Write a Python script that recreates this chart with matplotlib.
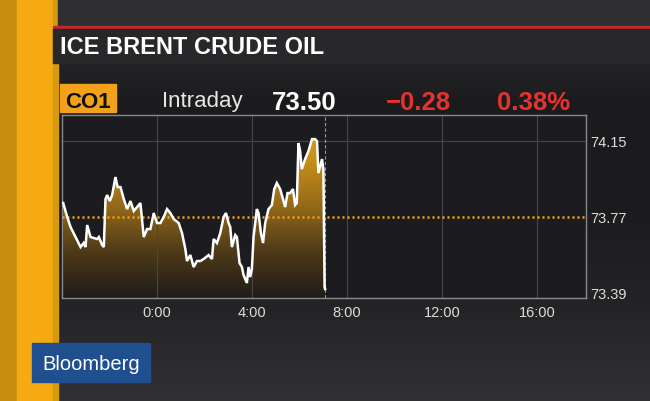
import matplotlib
matplotlib.use('Agg')
import matplotlib.pyplot as plt
import numpy as np
from matplotlib.patches import Rectangle, Polygon
from matplotlib.colors import LinearSegmentedColormap

plt.rcParams['font.family'] = ['Liberation Sans', 'DejaVu Sans']

# intraday ticks: hours from midnight (negative = previous evening), price
hours = [-3.95, -3.78, -3.64, -3.43, -3.22, -3.09, -3.01, -2.94, -2.80, -2.52,
         -2.45, -2.31, -2.24, -2.17, -2.10, -1.99, -1.89, -1.75, -1.66, -1.54,
         -1.40, -1.26, -1.12, -0.98, -0.84, -0.70, -0.56, -0.42, -0.28, -0.14,
         0.00, 0.14, 0.28, 0.42, 0.56, 0.70, 0.91, 1.05, 1.19, 1.26,
         1.40, 1.54, 1.68, 1.82, 1.96, 2.17, 2.31, 2.38, 2.52, 2.66,
         2.80, 2.90, 3.01, 3.08, 3.15, 3.29, 3.36, 3.47, 3.57, 3.64,
         3.78, 3.85, 3.92, 3.99, 4.06, 4.20, 4.27, 4.37, 4.46, 4.55,
         4.69, 4.83, 4.93, 5.04, 5.18, 5.30, 5.39, 5.49, 5.60, 5.72,
         5.81, 5.88, 5.95, 6.02, 6.09, 6.23, 6.37, 6.52, 6.65, 6.73,
         6.79, 6.94, 7.00, 7.05, 7.07]
prices = [73.84, 73.77, 73.72, 73.67, 73.62, 73.64, 73.62, 73.73, 73.67, 73.66,
          73.67, 73.63, 73.62, 73.86, 73.88, 73.85, 73.88, 73.97, 73.92, 73.92,
          73.86, 73.81, 73.85, 73.80, 73.82, 73.84, 73.67, 73.71, 73.71, 73.79,
          73.74, 73.74, 73.77, 73.81, 73.79, 73.76, 73.74, 73.69, 73.61, 73.55,
          73.58, 73.52, 73.55, 73.55, 73.56, 73.58, 73.56, 73.66, 73.64, 73.69,
          73.77, 73.79, 73.74, 73.72, 73.62, 73.68, 73.67, 73.54, 73.52, 73.48,
          73.44, 73.52, 73.47, 73.51, 73.67, 73.81, 73.79, 73.69, 73.64, 73.74,
          73.81, 73.83, 73.91, 73.94, 73.91, 73.86, 73.82, 73.89, 73.89, 73.91,
          73.83, 73.84, 74.14, 74.10, 74.01, 74.06, 74.10, 74.16, 74.16, 74.15,
          73.99, 74.06, 74.01, 73.42, 73.41]

prev_close = 73.77
y_ticks = [73.39, 73.77, 74.15]
x_ticks = [0, 4, 8, 12, 16]
x_labels = ['0:00', '4:00', '8:00', '12:00', '16:00']
now_hour = 7.07

title = 'ICE BRENT CRUDE OIL'
ticker = 'CO1'
period = 'Intraday'
last_price = '73.50'
net_change = '\u22120.28'
pct_change = '0.38%'
brand = 'Bloomberg'

W, H = 650, 401
fig = plt.figure(figsize=(6.5, 4.01), dpi=100)

# background layer in pixel coordinates
bg = fig.add_axes([0, 0, 1, 1])
bg.set_xlim(0, W)
bg.set_ylim(H, 0)
bg.axis('off')
bg_cmap = LinearSegmentedColormap.from_list(
    'bg', ['#303032', '#1c1c1e', '#1b1b1d', '#232325', '#313133'])
bg.imshow(np.linspace(0, 1, 200).reshape(-1, 1), extent=(0, W, H, 0),
          aspect='auto', cmap=bg_cmap, zorder=0)
bg.add_patch(Rectangle((0, 0), 17, H, color='#c88c0e', zorder=1))
bg.add_patch(Rectangle((17, 0), 38, H, color='#f5aa12', zorder=1))
bg.add_patch(Rectangle((53, 0), 5, H, color='#d69a10', zorder=1))
bg.add_patch(Rectangle((58, 0), W - 58, 26, color='#2f2f31', zorder=1))
bg.add_patch(Rectangle((53, 26), W - 53, 2.5, color='#c4262a', zorder=2))
bg.add_patch(Rectangle((53, 28.5), W - 53, 34, color='#28282b', zorder=2))
bg.text(60, 53.5, title, color='white', fontsize=17, fontweight='bold',
        va='baseline', ha='left', zorder=3)

# header row
bg.add_patch(Rectangle((60, 84), 56, 28, color='#f2a21a', zorder=2))
bg.text(88, 108.5, ticker, color='#111111', fontsize=16, fontweight='bold',
        ha='center', va='baseline', zorder=3)
bg.text(162, 107.5, period, color='#e6e6e6', fontsize=16, ha='left',
        va='baseline', zorder=3)
bg.text(272, 110, last_price, color='white', fontsize=18.5, fontweight='bold',
        ha='left', va='baseline', zorder=3)
bg.text(386, 110, net_change, color='#e8322e', fontsize=18.5,
        fontweight='bold', ha='left', va='baseline', zorder=3)
bg.text(497, 110, pct_change, color='#e8322e', fontsize=18.5,
        fontweight='bold', ha='left', va='baseline', zorder=3)

# brand box
bg.add_patch(Rectangle((32, 343), 118, 39, color='#1f4f8e', zorder=2))
bg.text(91, 370, brand, color='white', fontsize=14.5, ha='center',
        va='baseline', zorder=3)

# chart
xmin, xmax = -4.0, 18.05
ymin, ymax = 73.365, 74.283
ax = fig.add_axes([62 / W, 1 - 298 / H, 524 / W, 183.5 / H])
ax.set_facecolor('#1c1c20')

fill_cmap = LinearSegmentedColormap.from_list(
    'oil', ['#1f1c19', '#4d3a18', '#94691a', '#c88e1a', '#e0a21e'])
im = ax.imshow(np.linspace(1, 0, 256).reshape(-1, 1),
               extent=(xmin, xmax, ymin, ymax), aspect='auto',
               cmap=fill_cmap, origin='upper', zorder=1)
verts = np.column_stack([hours + [hours[-1], hours[0]],
                         prices + [ymin, ymin]])
area = Polygon(verts, closed=True, facecolor='none', edgecolor='none',
               transform=ax.transData)
ax.add_patch(area)
im.set_clip_path(area)

ax.grid(axis='x', color='#47474b', linewidth=0.8, zorder=0.5)
ax.axhline(y_ticks[-1], color='#47474b', linewidth=0.8, zorder=0.5)
ax.axvline(now_hour, color='#9a9a9c', linewidth=0.8, linestyle=(0, (3, 2)),
           zorder=2)
ax.axhline(prev_close, color='#f2a41e', linewidth=1.8,
           linestyle=(0, (0.8, 1.2)), zorder=3)
ax.plot(hours, prices, color='white', linewidth=1.8, zorder=4,
        solid_joinstyle='miter')

ax.set_xlim(xmin, xmax)
ax.set_ylim(ymin, ymax)
ax.set_xticks(x_ticks)
ax.set_xticklabels(x_labels)
ax.set_yticks(y_ticks)
ax.set_yticklabels(['%.2f' % v for v in y_ticks])
ax.yaxis.tick_right()
ax.tick_params(axis='both', length=0, colors='#dcdcdc', labelsize=10.5)
ax.tick_params(axis='x', pad=6)
ax.tick_params(axis='y', pad=3)
for s in ax.spines.values():
    s.set_color('#8a8a8c')
    s.set_linewidth(1.0)

fig.savefig('out.png', dpi=100, facecolor='#1c1c1e')
